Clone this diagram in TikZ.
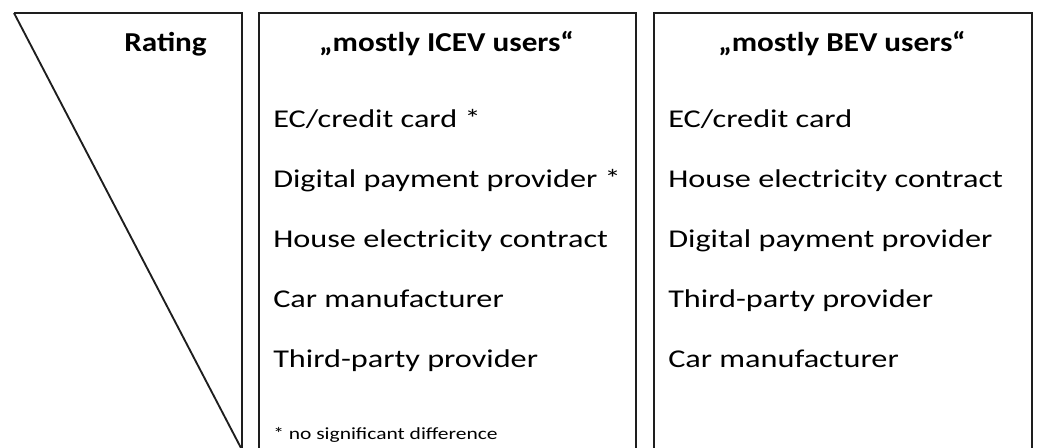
\documentclass[tikz,border=0pt]{standalone}
\usepackage{fontspec}
\setmainfont{Carlito}[FakeStretch=1.26, BoldFeatures={FakeStretch=1.14}]

\tikzset{
  frame/.style={line width=1.4pt, color={rgb, 255:red, 30; green, 30; blue, 30}},
  entry/.style={anchor=base west, inner sep=0pt, font=\fontsize{19.2}{23}\selectfont},
  head/.style={anchor=base, inner sep=0pt, font=\fontsize{20.5}{24}\selectfont\bfseries},
  note/.style={anchor=base west, inner sep=0pt, font=\fontsize{12.8}{15}\selectfont}
}

\begin{document}
\begin{tikzpicture}[x=0.75pt,y=0.75pt,yscale=-1,xscale=1]
\useasboundingbox (0,0) rectangle (1038,448);

%Shape: Rating wedge
\draw [frame] (14,13) -- (242,13) -- (242,448) ;
\draw [frame] (14,13) -- (241,448) ;
%Shape: ICEV box
\draw [frame] (259,448) -- (259,13) -- (636,13) -- (636,448) ;
%Shape: BEV box
\draw [frame] (654,448) -- (654,13) -- (1032,13) -- (1032,448) ;

% Text Node
\node [head, anchor=base east] (rating) at (207,52) {Rating};
% Text Node
\node [head] (icevhead) at (446.5,52) {„mostly ICEV users“};
% Text Node
\node [head] (bevhead) at (842,52) {„mostly BEV users“};

% Text Node
\node [entry] (icev1) at (273,128) {EC/credit card *};
\node [entry] (icev2) at (273,188) {Digital payment provider *};
\node [entry] (icev3) at (273,248) {House electricity contract};
\node [entry] (icev4) at (273,308) {Car manufacturer};
\node [entry] (icev5) at (273,368) {Third-party provider};
\node [note] (icevnote) at (273,440) {* no significant difference};

% Text Node
\node [entry] (bev1) at (668,128) {EC/credit card};
\node [entry] (bev2) at (668,188) {House electricity contract};
\node [entry] (bev3) at (668,248) {Digital payment provider};
\node [entry] (bev4) at (668,308) {Third-party provider};
\node [entry] (bev5) at (668,368) {Car manufacturer};

\end{tikzpicture}
\end{document}
